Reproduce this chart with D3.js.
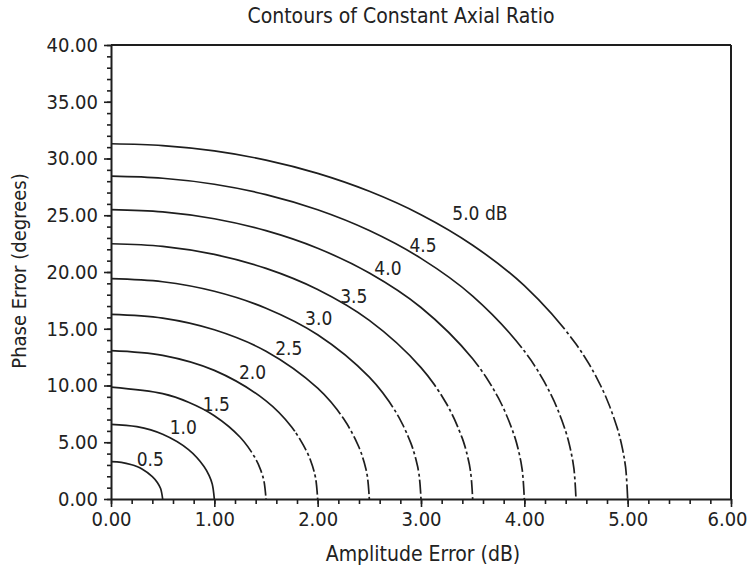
<!DOCTYPE html>
<html>
<head>
<meta charset="utf-8">
<script src="https://cdn.jsdelivr.net/npm/d3@7"></script>
<style>
  body { margin: 0; background: #fff; }
  svg text { font-family: "Liberation Sans Narrow", "DejaVu Sans Condensed", "Roboto Condensed", sans-serif; fill: #222; }
</style>
</head>
<body>
<script>
'use strict';

// axial ratio levels (dB) and their labels
const levels = [0.5, 1.0, 1.5, 2.0, 2.5, 3.0, 3.5, 4.0, 4.5, 5.0];
const levelLabels = ['0.5', '1.0', '1.5', '2.0', '2.5', '3.0', '3.5', '4.0', '4.5', '5.0 dB'];

// contour points: [amplitude error (dB), phase error (deg)]
const ar05 = [[0, 3.30], [0.1, 3.23], [0.2, 3.02], [0.25, 2.86], [0.3, 2.64], [0.4, 1.98], [0.45, 1.44], [0.48, 0.92], [0.5, 0]];
const ar10 = [[0, 6.58], [0.25, 6.37], [0.5, 5.70], [0.75, 4.35], [0.9, 2.87], [0.95, 2.06], [0.98, 1.31], [1.0, 0]];
const ar15 = [[0, 9.85], [0.5, 9.28], [0.75, 8.53], [1.0, 7.34], [1.25, 5.44], [1.4, 3.54], [1.45, 2.52], [1.48, 1.60], [1.5, 0]];
const ar20 = [[0, 13.08], [0.5, 12.66], [1.0, 11.33], [1.5, 8.65], [1.75, 6.33], [1.9, 4.08], [1.95, 2.91], [1.98, 1.85], [2.0, 0]];
const ar25 = [[0, 16.27], [0.5, 15.94], [1.0, 14.91], [1.5, 13.02], [2.0, 9.76], [2.25, 7.09], [2.4, 4.56], [2.45, 3.24], [2.48, 2.05], [2.5, 0]];
const ar30 = [[0, 19.41], [0.5, 19.14], [1.0, 18.30], [1.5, 16.81], [2.0, 14.47], [2.5, 10.73], [2.75, 7.76], [2.9, 4.97], [2.95, 3.53], [2.98, 2.24], [3.0, 0]];
const ar35 = [[0, 22.49], [0.5, 22.26], [1.0, 21.55], [1.5, 20.32], [2.0, 18.46], [2.5, 15.74], [3.0, 11.58], [3.25, 8.35], [3.4, 5.34], [3.45, 3.79], [3.48, 2.40], [3.5, 0]];
const ar40 = [[0, 25.50], [0.5, 25.30], [1.0, 24.69], [1.5, 23.64], [2.0, 22.09], [2.5, 19.91], [3.0, 16.87], [3.5, 12.35], [3.75, 8.88], [3.9, 5.67], [3.95, 4.02], [3.98, 2.55], [4.0, 0]];
const ar45 = [[0, 28.44], [0.5, 28.26], [1.0, 27.73], [1.5, 26.82], [2.0, 25.48], [2.5, 23.65], [3.0, 21.20], [3.5, 17.88], [4.0, 13.04], [4.25, 9.35], [4.4, 5.97], [4.45, 4.23], [4.48, 2.68], [4.5, 0]];
const ar50 = [[0, 31.30], [0.5, 31.14], [1.0, 30.67], [1.5, 29.86], [2.0, 28.69], [2.5, 27.11], [3.0, 25.05], [3.5, 22.36], [4.0, 18.79], [4.5, 13.65], [4.75, 9.78], [4.9, 6.23], [4.95, 4.42], [4.98, 2.80], [5.0, 0]];

// where each contour label sits, in data units
const labelAmp = [0.38, 0.70, 1.02, 1.37, 1.72, 2.01, 2.35, 2.68, 3.02, 3.57];
const labelPhase = [3.5, 6.3, 8.4, 11.2, 13.3, 15.9, 17.9, 20.3, 22.4, 25.2];

const xTicks = [0, 1, 2, 3, 4, 5, 6];
const yTicks = [0, 5, 10, 15, 20, 25, 30, 35, 40];

const contours = [ar05, ar10, ar15, ar20, ar25, ar30, ar35, ar40, ar45, ar50];

const width = 749, height = 577;
const margin = {top: 45, right: 18, bottom: 78, left: 111};

const x = d3.scaleLinear().domain([0, 6]).range([margin.left, width - margin.right]);
const y = d3.scaleLinear().domain([0, 40]).range([height - margin.bottom, margin.top]);

const svg = d3.select('body').append('svg')
    .attr('width', width)
    .attr('height', height);

// clip wedge for the broken (dash-dot) lower parts of the outer contours
const x0 = x(0), y0 = y(0), x6 = x(6);
svg.append('clipPath').attr('id', 'lowerWedge')
  .append('polygon')
    .attr('points', [[x0, y0 + 4], [x6, y0 + 4 - (x6 - x0) * 0.39], [x6, y0 + 4]].join(' '));

const line = d3.line()
    .x(function (d) { return x(d[0]); })
    .y(function (d) { return y(d[1]); })
    .curve(d3.curveCatmullRom.alpha(0.5));

svg.append('g').selectAll('path')
    .data(contours).enter()
  .append('path')
    .attr('d', line)
    .attr('fill', 'none')
    .attr('stroke', '#1e1e1e')
    .attr('stroke-width', 1.7);

// knock gaps into the steep part of contours >= 1.5 dB
svg.append('g').attr('clip-path', 'url(#lowerWedge)')
  .selectAll('path')
    .data(contours.filter(function (c, i) { return levels[i] >= 1.5; })).enter()
  .append('path')
    .attr('d', line)
    .attr('fill', 'none')
    .attr('stroke', '#fff')
    .attr('stroke-width', 3)
    .attr('stroke-dasharray', '3,3,3,14');

// contour labels
svg.append('g').selectAll('text')
    .data(levelLabels).enter()
  .append('text')
    .attr('x', function (d, i) { return x(labelAmp[i]); })
    .attr('y', function (d, i) { return y(labelPhase[i]); })
    .attr('dy', '0.36em')
    .attr('text-anchor', 'middle')
    .style('font-size', '19px')
    .text(function (d) { return d; });

// frame: top and right
svg.append('line')
    .attr('x1', x(0)).attr('x2', x(6))
    .attr('y1', y(40)).attr('y2', y(40))
    .attr('stroke', '#1e1e1e').attr('stroke-width', 2);
svg.append('line')
    .attr('x1', x(6)).attr('x2', x(6))
    .attr('y1', y(40)).attr('y2', y(0))
    .attr('stroke', '#1e1e1e').attr('stroke-width', 2);

// minor ticks
svg.append('g')
    .attr('transform', 'translate(0,' + y(0) + ')')
    .call(d3.axisBottom(x).tickValues(d3.range(0, 6.001, 0.2)).tickSize(5).tickFormat(''))
    .call(function (g) { g.select('.domain').remove(); });
svg.append('g')
    .attr('transform', 'translate(' + x(0) + ',0)')
    .call(d3.axisLeft(y).tickValues(d3.range(0, 40.001, 1)).tickSize(4).tickFormat(''))
    .call(function (g) { g.select('.domain').remove(); });

// major axes
const xAxis = svg.append('g')
    .attr('transform', 'translate(0,' + y(0) + ')')
    .call(d3.axisBottom(x).tickValues(xTicks).tickFormat(d3.format('.2f'))
        .tickSize(8).tickSizeOuter(0).tickPadding(5));
const yAxis = svg.append('g')
    .attr('transform', 'translate(' + x(0) + ',0)')
    .call(d3.axisLeft(y).tickValues(yTicks).tickFormat(d3.format('.2f'))
        .tickSize(7).tickSizeOuter(0).tickPadding(6));

svg.selectAll('.tick line').attr('stroke', '#1e1e1e').attr('stroke-width', 1.6);
svg.selectAll('.domain').attr('stroke', '#1e1e1e').attr('stroke-width', 2);
[xAxis, yAxis].forEach(function (g) {
  g.selectAll('text')
    .style('font-size', '20px')
    .attr('fill', '#222');
});
// last x label sits against the page edge, nudge it in
xAxis.selectAll('.tick text').filter(function (d) { return d === 6; }).attr('dx', '-4');

// titles
svg.append('text')
    .attr('x', 401).attr('y', 23)
    .attr('text-anchor', 'middle')
    .style('font-size', '21px')
    .text('Contours of Constant Axial Ratio');

svg.append('text')
    .attr('x', 423).attr('y', 561)
    .attr('text-anchor', 'middle')
    .style('font-size', '21px')
    .text('Amplitude Error (dB)');

svg.append('text')
    .attr('transform', 'translate(26,271) rotate(-90)')
    .attr('text-anchor', 'middle')
    .style('font-size', '20px')
    .text('Phase Error (degrees)');
</script>
</body>
</html>
